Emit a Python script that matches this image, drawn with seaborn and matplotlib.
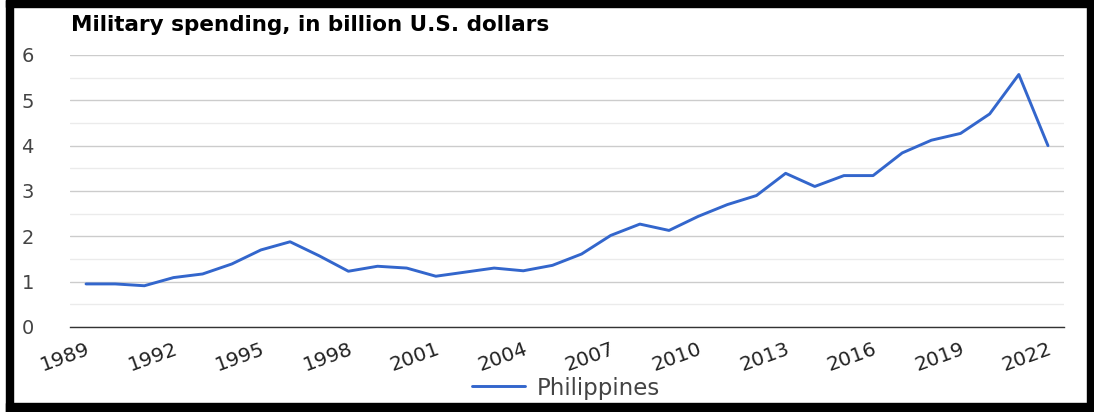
import matplotlib
matplotlib.use("Agg")
import matplotlib.pyplot as plt
import seaborn as sns
import pandas as pd
from matplotlib.patches import Rectangle
from matplotlib.ticker import MultipleLocator

years = list(range(1989, 2023))
spending = [0.95, 0.95, 0.91, 1.09, 1.17, 1.39, 1.70, 1.88, 1.57, 1.23,
            1.34, 1.30, 1.12, 1.21, 1.30, 1.24, 1.36, 1.61, 2.02, 2.27,
            2.13, 2.44, 2.70, 2.90, 3.39, 3.10, 3.34, 3.34, 3.84, 4.12,
            4.27, 4.70, 5.57, 4.00]
country = "Philippines"
title = "Military spending, in billion U.S. dollars"
xticks = list(range(1989, 2023, 3))
yticks = [0, 1, 2, 3, 4, 5, 6]

df = pd.DataFrame({"Year": years, "Spending": spending, "Country": country})

sns.set_theme(style="white")
plt.rcParams["font.family"] = ["DejaVu Sans"]

fig = plt.figure(figsize=(10.94, 4.12), dpi=100)
W, H = 1094, 412
ax = fig.add_axes([70 / W, 1 - 327 / H, (1064 - 70) / W, (327 - 55) / H])

sns.lineplot(data=df, x="Year", y="Spending", hue="Country",
             palette=["#3366cc"], linewidth=2.1, ax=ax, legend=True)

ax.set_xlim(1988.45, 2022.55)
ax.set_ylim(0, 6)
ax.set_xticks(xticks)
ax.set_xticklabels([str(x) for x in xticks])
ax.set_yticks(yticks)
ax.yaxis.set_minor_locator(MultipleLocator(0.5))
ax.grid(True, which="major", axis="y", color="#cccccc", linewidth=1.0)
ax.grid(True, which="minor", axis="y", color="#ebebeb", linewidth=1.0)
ax.grid(False, axis="x")
ax.set_axisbelow(True)
for s in ["left", "right", "top"]:
    ax.spines[s].set_visible(False)
ax.spines["bottom"].set_color("#333333")
ax.spines["bottom"].set_linewidth(1.0)
ax.set_xlabel("")
ax.set_ylabel("")

ax.tick_params(axis="y", which="both", length=0, pad=26, labelsize=14,
               labelcolor="#444444")
ax.tick_params(axis="x", length=0, pad=9, labelsize=14.5, labelcolor="#222222")
for lbl in ax.get_xticklabels():
    lbl.set_rotation(20)
    lbl.set_ha("right")
    lbl.set_va("top")
    lbl.set_rotation_mode("anchor")

fig.text(71 / W, 1 - 25 / H, title, fontsize=15.5, fontweight="bold",
         color="#000000", ha="left", va="center")

handles, labels = ax.get_legend_handles_labels()
ax.legend(handles, labels, loc="center", bbox_to_anchor=(566 / W, 1 - 388 / H),
          bbox_transform=fig.transFigure, frameon=False, fontsize=16.5,
          handlelength=2.3, handletextpad=0.5, labelcolor="#444444")

# black frame around the picture
fig.patches.extend([
    Rectangle((6 / W, 0), 7 / W, 1, transform=fig.transFigure, color="black", zorder=10),
    Rectangle((6 / W, 1 - 7 / H), 1 - 6 / W, 7 / H, transform=fig.transFigure, color="black", zorder=10),
    Rectangle((6 / W, 0), 1 - 6 / W, 9 / H, transform=fig.transFigure, color="black", zorder=10),
    Rectangle((1087 / W, 0), 7 / W, 1, transform=fig.transFigure, color="black", zorder=10),
])

fig.savefig("out.png", dpi=100, facecolor="white")
